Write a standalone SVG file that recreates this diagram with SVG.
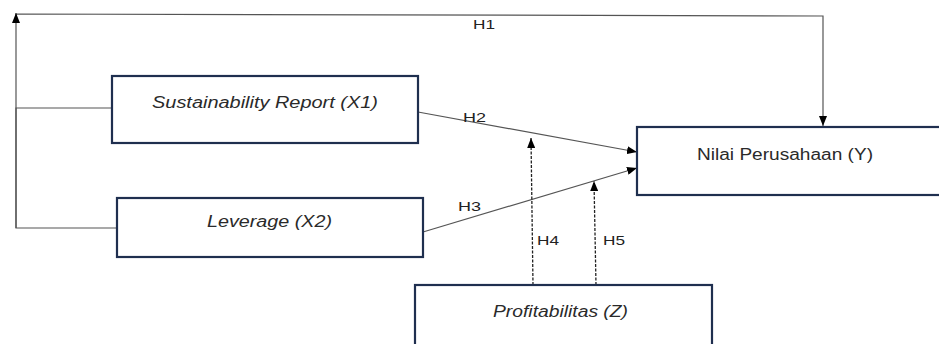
<svg xmlns="http://www.w3.org/2000/svg" width="939" height="344" viewBox="0 0 939 344">
<style>
.box{fill:#fff;stroke:#1f2f4f;stroke-width:2.2}
.lbl{font-family:"Liberation Sans",Arial,sans-serif;font-size:16px;fill:#2a2a2a;font-style:italic}
.lblr{font-family:"Liberation Sans",Arial,sans-serif;font-size:16px;fill:#2a2a2a}
.h{font-family:"Liberation Sans",Arial,sans-serif;font-size:13.5px;fill:#222}
.ln{fill:none;stroke:#555;stroke-width:1.2}
.dash{fill:none;stroke:#222;stroke-width:1.3;stroke-dasharray:3 1.5}
</style>
<defs>
<marker id="ah" viewBox="0 0 10 8" refX="10" refY="4" markerWidth="10" markerHeight="8" markerUnits="userSpaceOnUse" orient="auto">
<path d="M0,0 L10,4 L0,8 z" fill="#000"/>
</marker>
</defs>
<g id="connectors">
<path class="ln" d="M112,108 H16 V228 H117"/>
<path class="ln" d="M16,228 V14 L823,16 V126" marker-end="url(#ah)"/>
<path class="ln" d="M16,20 V13" marker-end="url(#ah)"/>
<path class="ln" d="M418,112 L637,152" marker-end="url(#ah)"/>
<path class="ln" d="M423,232 L637,168" marker-end="url(#ah)"/>
<path class="dash" d="M533,285 L531,138" marker-end="url(#ah)"/>
<path class="dash" d="M596,285 L594,181" marker-end="url(#ah)"/>
<text class="h" x="473" y="29" textLength="22" lengthAdjust="spacingAndGlyphs">H1</text>
<text class="h" x="463" y="122" textLength="23" lengthAdjust="spacingAndGlyphs">H2</text>
<text class="h" x="458" y="211" textLength="23" lengthAdjust="spacingAndGlyphs">H3</text>
<text class="h" x="537" y="245" textLength="22" lengthAdjust="spacingAndGlyphs">H4</text>
<text class="h" x="603" y="245" textLength="22" lengthAdjust="spacingAndGlyphs">H5</text>
</g>
<g id="x1">
<rect class="box" x="112" y="76" width="306" height="67"/>
<text class="lbl" x="152" y="108" textLength="226" lengthAdjust="spacingAndGlyphs">Sustainability Report (X1)</text>
</g>
<g id="x2">
<rect class="box" x="117" y="198" width="306" height="59"/>
<text class="lbl" x="207" y="227" textLength="125" lengthAdjust="spacingAndGlyphs">Leverage (X2)</text>
</g>
<g id="y">
<rect class="box" x="637" y="127" width="310" height="68"/>
<text class="lblr" x="697" y="160" textLength="176" lengthAdjust="spacingAndGlyphs">Nilai Perusahaan (Y)</text>
</g>
<g id="z">
<rect class="box" x="415" y="285" width="297" height="70"/>
<text class="lbl" x="493" y="317" textLength="135" lengthAdjust="spacingAndGlyphs">Profitabilitas (Z)</text>
</g>
</svg>
